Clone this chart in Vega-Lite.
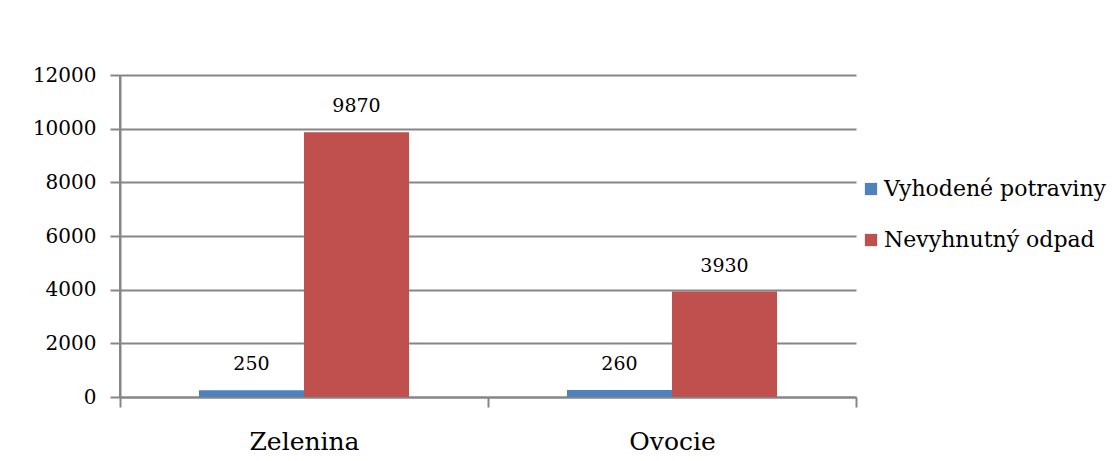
{
  "$schema": "https://vega.github.io/schema/vega-lite/v6.json",
  "width": 736,
  "height": 322,
  "autosize": {"type": "none"},
  "padding": {"left": 120, "top": 75, "right": 257, "bottom": 64},
  "background": "white",
  "config": {
    "font": "DejaVu Serif",
    "view": {"stroke": null}
  },
  "data": {
    "values": [
      {"kategoria": "Zelenina", "seria": "Vyhodené potraviny", "hodnota": 250},
      {"kategoria": "Zelenina", "seria": "Nevyhnutný odpad", "hodnota": 9870},
      {"kategoria": "Ovocie", "seria": "Vyhodené potraviny", "hodnota": 260},
      {"kategoria": "Ovocie", "seria": "Nevyhnutný odpad", "hodnota": 3930}
    ]
  },
  "layer": [
    {
      "mark": {"type": "bar"},
      "encoding": {
        "x": {
          "field": "kategoria",
          "type": "nominal",
          "sort": ["Zelenina", "Ovocie"],
          "scale": {"paddingInner": 0, "paddingOuter": 0},
          "axis": {
            "title": null,
            "labelAngle": 0,
            "labelFont": "DejaVu Serif",
            "labelColor": "black",
            "labelFontSize": 25,
            "labelPadding": 22,
            "tickBand": "extent",
            "tickSize": 10,
            "tickColor": "#868686",
            "tickWidth": 2,
            "domain": true,
            "domainColor": "#868686",
            "domainWidth": 2
          }
        },
        "xOffset": {
          "field": "seria",
          "sort": ["Vyhodené potraviny", "Nevyhnutný odpad"],
          "scale": {"paddingInner": 0, "paddingOuter": 0.752}
        },
        "y": {
          "field": "hodnota",
          "type": "quantitative",
          "scale": {"domain": [0, 12000]},
          "axis": {
            "title": null,
            "values": [0, 2000, 4000, 6000, 8000, 10000, 12000],
            "format": "d",
            "labelFont": "DejaVu Serif",
            "labelColor": "black",
            "labelFontSize": 20,
            "labelPadding": 14,
            "tickSize": 10,
            "tickColor": "#868686",
            "tickWidth": 2,
            "domain": true,
            "domainColor": "#868686",
            "domainWidth": 2,
            "grid": true,
            "gridColor": "#868686",
            "gridWidth": 2
          }
        },
        "color": {
          "field": "seria",
          "type": "nominal",
          "sort": ["Vyhodené potraviny", "Nevyhnutný odpad"],
          "scale": {"domain": ["Vyhodené potraviny", "Nevyhnutný odpad"], "range": ["#4F81BD", "#C0504D"]},
          "legend": {
            "title": null,
            "orient": "none",
            "legendX": 740,
            "legendY": 103,
            "symbolType": "square",
            "symbolSize": 150,
            "symbolStrokeWidth": 0,
            "labelFont": "DejaVu Serif",
            "labelFontSize": 22,
            "labelColor": "black",
            "rowPadding": 29,
            "labelOffset": 2,
            "labelLimit": 300
          }
        }
      }
    },
    {
      "mark": {"type": "text", "baseline": "bottom", "dy": -16, "fontSize": 19, "color": "black", "font": "DejaVu Serif"},
      "encoding": {
        "x": {"field": "kategoria", "type": "nominal", "sort": ["Zelenina", "Ovocie"]},
        "xOffset": {"field": "seria", "sort": ["Vyhodené potraviny", "Nevyhnutný odpad"]},
        "y": {"field": "hodnota", "type": "quantitative"},
        "text": {"field": "hodnota", "type": "quantitative", "format": "d"}
      }
    },
    {
      "mark": {"type": "rule", "color": "#868686", "strokeWidth": 2},
      "encoding": {
        "x": {"datum": "Zelenina", "type": "nominal", "bandPosition": 0},
        "y": {"datum": 0, "type": "quantitative"},
        "y2": {"datum": 12000}
      }
    }
  ]
}
